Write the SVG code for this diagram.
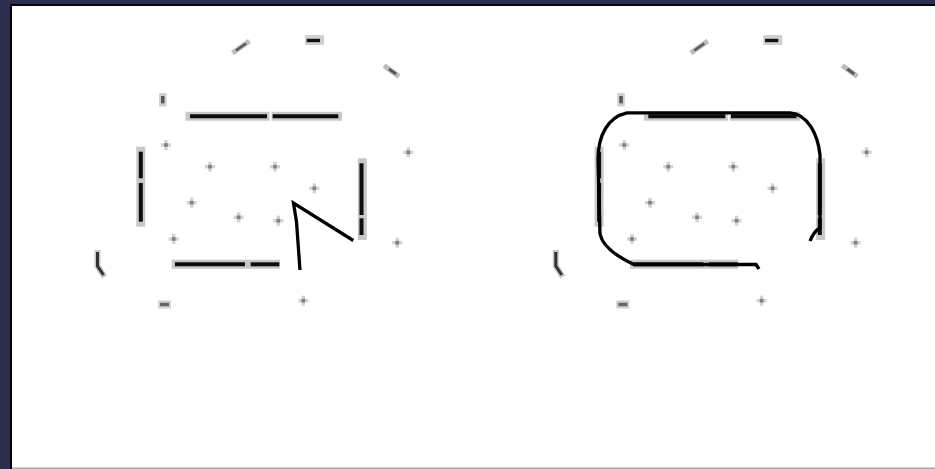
<svg xmlns="http://www.w3.org/2000/svg" xmlns:xlink="http://www.w3.org/1999/xlink" width="935" height="469" viewBox="0 0 935 469">
<style>
.halo{fill:none;stroke:#c8c8c8;stroke-width:9}
.ink{fill:none;stroke:#0d0d0d;stroke-width:4}
.dk{fill:#555}
.lt{fill:#cfcfcf}
.pen{fill:none;stroke:#000;stroke-width:3.3;stroke-linejoin:miter}
</style>
<defs>
<symbol id="plus" overflow="visible">
<rect x="-5" y="-1.7" width="10" height="3.4" fill="#d2d2d2"/>
<rect x="-1.7" y="-5" width="3.4" height="10" fill="#d2d2d2"/>
<rect x="-1.8" y="-1.8" width="3.6" height="3.6" fill="#808080"/>
</symbol>
<g id="grid">
<line x1="232.5" y1="53" x2="249.5" y2="41" stroke="#bcbcbc" stroke-width="5"/>
<line x1="236" y1="50.5" x2="246" y2="43.5" stroke="#5a5a5a" stroke-width="2.5"/>
<rect x="305" y="35" width="19" height="10" class="lt"/>
<rect x="306.7" y="38.8" width="13.3" height="3.4" fill="#111"/>
<line x1="384" y1="65.5" x2="399" y2="76.5" stroke="#bcbcbc" stroke-width="5"/>
<line x1="389" y1="69" x2="396" y2="74" stroke="#5a5a5a" stroke-width="3"/>
<rect x="159" y="93" width="7.5" height="13.5" class="lt"/>
<rect x="161" y="96" width="3.5" height="7.3" class="dk"/>
<line class="halo" x1="185.5" y1="116.3" x2="269.5" y2="116.3"/>
<line class="halo" x1="271.5" y1="116.3" x2="342" y2="116.3"/>
<line class="ink" x1="190" y1="116.3" x2="267" y2="116.3"/>
<line class="ink" x1="272.7" y1="116.3" x2="338.3" y2="116.3"/>
<line class="halo" x1="140.8" y1="146.7" x2="140.8" y2="226.7"/>
<line class="ink" x1="140.8" y1="151.7" x2="140.8" y2="178.3" stroke-width="4.6"/>
<line class="ink" x1="140.8" y1="183" x2="140.8" y2="221.7" stroke-width="4.6"/>
<line class="halo" x1="362.3" y1="158.3" x2="362.3" y2="240"/>
<line class="ink" x1="361.5" y1="163.3" x2="361.5" y2="215"/>
<line class="ink" x1="361.5" y1="218.3" x2="361.5" y2="235"/>
<line class="halo" x1="171.7" y1="264.3" x2="280" y2="264.3"/>
<line class="ink" x1="175" y1="264.3" x2="245" y2="264.3" stroke-width="3.6"/>
<line class="ink" x1="250.7" y1="264.3" x2="279.3" y2="264.3" stroke-width="3.6"/>
<path d="M97.5 250 L97.5 266 L104.5 277" fill="none" stroke="#c8c8c8" stroke-width="6"/>
<path d="M97.5 252 L97.5 266 L103.5 275" fill="none" stroke="#333" stroke-width="3"/>
<rect x="158" y="300.5" width="13" height="8" class="lt"/>
<rect x="160" y="302.8" width="9" height="3.4" fill="#666"/>
<use xlink:href="#plus" x="166" y="145"/>
<use xlink:href="#plus" x="408.3" y="152.3"/>
<use xlink:href="#plus" x="210" y="166.7"/>
<use xlink:href="#plus" x="275" y="166.7"/>
<use xlink:href="#plus" x="314.3" y="188.3"/>
<use xlink:href="#plus" x="191.7" y="202.7"/>
<use xlink:href="#plus" x="238.7" y="217.3"/>
<use xlink:href="#plus" x="278.3" y="220.7"/>
<use xlink:href="#plus" x="173.7" y="239"/>
<use xlink:href="#plus" x="397.3" y="242.7"/>
<use xlink:href="#plus" x="303.3" y="300.7"/>
</g>
</defs>
<rect width="935" height="469" fill="#2d2d4f"/>
<rect x="10" y="4" width="925" height="465" fill="#000"/>
<rect x="12" y="6" width="923" height="462" fill="#fff"/>
<rect x="12" y="467.5" width="923" height="1.5" fill="#a8a8a8"/>
<g id="panel-left">
<use xlink:href="#grid"/>
<path class="pen" d="M300 270 L296.5 222 L293.5 203 L353.3 240.5"/>
</g>
<g id="panel-right">
<use xlink:href="#grid" x="458.3"/>
<path class="pen" d="M759 269 L756 264.5 L634 264.5 C620 258 603 248 600 234 L598 160 C598 135 608 117 627 112.8 L790 112.8 C808 114 818 135 820 155 L820 228 Q814 231 810 241"/>
</g>
</svg>
